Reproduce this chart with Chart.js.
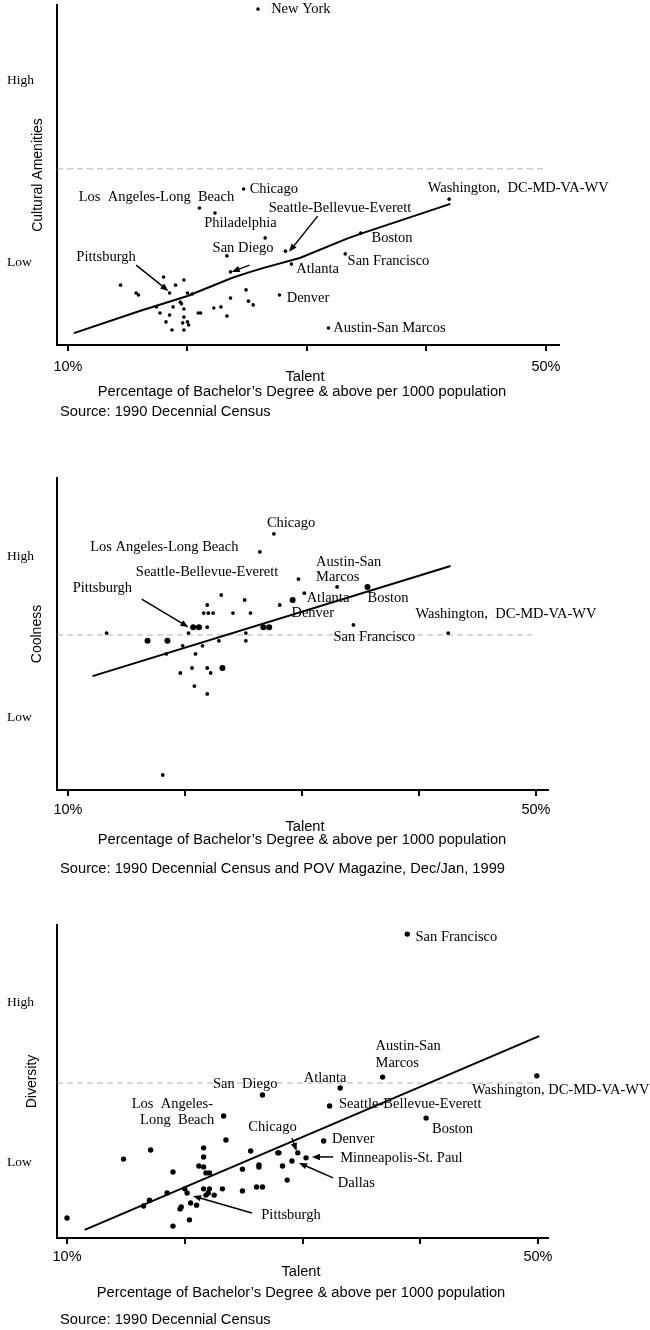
<!DOCTYPE html>
<html>
<head>
<meta charset="utf-8">
<script src="https://cdn.jsdelivr.net/npm/chart.js@4"></script>
<style>
  body { margin: 0; background: #fff; width: 650px; height: 1330px; position: relative; overflow: hidden; }
  canvas { position: absolute; left: 0; }
</style>
</head>
<body>
<canvas id="chart-amenities" width="650" height="440" style="top:0"></canvas>
<canvas id="chart-coolness" width="650" height="440" style="top:440px"></canvas>
<canvas id="chart-diversity" width="650" height="450" style="top:880px"></canvas>
<script>
// shared x axis
const tickVals = [10, 20, 30, 40, 50];
const tickText = ['10%', '', '', '', '50%'];
const levelWords = ['High', 'Low'];

// panel 1 - cultural amenities vs talent
const amenX = [25.9, 41.9, 24.7, 21.0, 22.3, 26.5, 34.5, 33.2, 28.2, 28.7, 23.3, 23.6, 27.7, 31.8, 14.4, 15.7, 15.9, 17.4, 17.7, 18.0, 18.2, 18.5, 18.5, 18.7, 18.8, 19.0, 19.4, 19.5, 19.7, 19.7, 19.7, 19.6, 19.7, 20.0, 20.0, 20.1, 20.4, 20.9, 21.1, 22.2, 22.8, 23.3, 23.6, 24.9, 25.1, 25.5];
const amenY = [98.8, 42.9, 45.9, 40.3, 38.8, 31.5, 32.9, 26.8, 27.6, 23.8, 26.2, 21.5, 14.7, 5.0, 17.6, 15.3, 14.7, 11.2, 9.4, 20.0, 6.8, 8.8, 15.3, 4.4, 11.2, 17.6, 12.6, 12.1, 19.1, 10.6, 8.2, 6.5, 4.4, 15.3, 6.8, 5.9, 15.0, 9.4, 9.4, 10.9, 11.2, 8.5, 13.8, 16.2, 12.9, 11.8];
const amenFitX = [10.5, 16.0, 20.0, 23.7, 25.0, 26.3, 29.4, 33.3, 34.4, 42.0];
const amenFitY = [3.5, 10.0, 14.4, 19.7, 21.2, 22.6, 25.6, 31.2, 32.6, 41.5];
const amenMid = 51.8;
const amenLevels = [77.9, 24.4];

// panel 2 - coolness vs talent
const coolX = [27.6, 26.4, 29.7, 30.2, 28.1, 23.1, 25.1, 21.9, 21.6, 22.0, 22.4, 24.1, 25.6, 13.3, 18.4, 19.8, 20.3, 21.9, 21.5, 20.9, 22.9, 25.2, 25.2, 19.6, 20.6, 21.9, 22.2, 20.8, 21.9, 18.1, 33.0, 34.4, 42.5];
const coolY = [82.1, 76.3, 67.6, 63.1, 59.3, 62.5, 60.9, 59.3, 56.7, 56.7, 56.7, 56.7, 56.7, 50.3, 43.6, 46.2, 50.3, 52.2, 46.2, 43.6, 47.8, 50.3, 47.8, 37.5, 39.1, 39.1, 37.5, 33.3, 30.8, 4.8, 65.1, 52.9, 50.3];
const coolBigX = [29.2, 16.8, 18.5, 20.7, 21.2, 26.7, 27.2, 23.2, 35.6];
const coolBigY = [60.9, 47.8, 47.8, 52.2, 52.2, 52.2, 52.2, 39.1, 65.1];
const coolFitX = [12.1, 42.7];
const coolFitY = [36.5, 71.8];
const coolMid = 49.7;
const coolLevels = [75.0, 23.4];

// panel 3 - diversity vs talent
const divX = [38.9, 36.8, 33.2, 32.3, 40.5, 31.8, 30.3, 49.9, 29.6, 29.1, 28.7, 28.3, 27.9, 28.0, 26.6, 26.3, 26.3, 26.1, 26.6, 25.6, 24.9, 24.9, 23.5, 23.3, 23.2, 22.5, 21.8, 22.0, 21.6, 22.1, 21.8, 22.1, 21.6, 21.2, 21.6, 21.6, 21.0, 20.5, 20.4, 20.2, 20.0, 19.6, 19.7, 19.0, 19.0, 18.5, 17.0, 16.5, 17.1, 14.8, 10.0];
const divY = [97.1, 51.4, 47.9, 42.2, 38.3, 31.0, 25.6, 51.8, 27.2, 24.6, 18.5, 23.0, 27.2, 27.2, 45.7, 23.3, 22.7, 16.3, 16.3, 27.8, 22.0, 15.0, 31.3, 39.0, 15.7, 13.7, 13.7, 14.4, 15.7, 15.7, 20.8, 20.8, 22.7, 23.0, 25.9, 28.8, 10.5, 11.2, 5.8, 14.4, 15.7, 9.3, 9.9, 3.8, 21.1, 14.4, 12.1, 10.2, 28.1, 25.2, 6.4];
const divFitX = [11.5, 50.1];
const divFitY = [2.6, 64.5];
const divMid = 49.5;
const divLevels = [75.1, 24.0];

const pctText = 'Percentage of Bachelor\u2019s Degree & above per 1000 population';

// city names: [text, x, y, align]
const amenNames = [
  ['New York', 27.0, 98.8], ['Washington,  DC-MD-VA-WV', 40.1, 46.2], ['Chicago', 25.2, 45.9],
  ['Los  Angeles-Long  Beach', 10.9, 43.5], ['Philadelphia', 21.4, 35.9], ['Seattle-Bellevue-Everett', 26.8, 40.3],
  ['San Diego', 22.1, 28.5], ['Pittsburgh', 10.7, 25.9], ['Atlanta', 29.1, 22.4], ['Boston', 35.4, 31.5],
  ['San Francisco', 33.4, 24.7], ['Denver', 28.3, 13.8], ['Austin-San Marcos', 32.2, 5.0]
];
const amenArrows = [[15.7, 23.5, 18.4, 15.9], [25.2, 23.5, 23.7, 21.5], [30.9, 37.9, 28.5, 27.4]];

const coolNames = [
  ['Chicago', 27.0, 85.6], ['Los Angeles-Long Beach', 11.9, 77.9], ['Seattle-Bellevue-Everett', 15.8, 69.9],
  ['Pittsburgh', 10.4, 64.7], ['Austin-San', 31.2, 73.1], ['Marcos', 31.2, 68.3], ['Atlanta', 30.4, 61.5],
  ['Denver', 29.1, 56.7], ['Boston', 35.6, 61.5], ['Washington,  DC-MD-VA-WV', 39.7, 56.4], ['San Francisco', 32.7, 49.0]
];
const coolArrows = [[16.3, 61.2, 20.3, 52.2]];

const divNames = [
  ['San Francisco', 39.6, 96.2], ['Austin-San', 36.2, 61.3], ['Marcos', 36.2, 55.9], ['Atlanta', 30.1, 51.1],
  ['Washington, DC-MD-VA-WV', 44.4, 47.3], ['Seattle-Bellevue-Everett', 33.1, 42.8], ['Boston', 41.0, 34.8],
  ['Denver', 32.5, 31.6], ['San  Diego', 22.4, 49.2], ['Los  Angeles-', 22.4, 42.8, 'right'], ['Long  Beach', 22.5, 37.7, 'right'],
  ['Chicago', 25.4, 35.5], ['Pittsburgh', 26.5, 7.3], ['Minneapolis-St. Paul', 33.2, 25.6], ['Dallas', 33.0, 17.6]
];
const divArrows = [[29.1, 31.9, 29.5, 27.8], [32.6, 25.9, 30.8, 25.9], [32.6, 19.2, 29.7, 24.0], [25.7, 8.0, 20.7, 13.4]];

const SANS = '"Liberation Sans", Arial, sans-serif';
const SERIF = '"Liberation Serif", "Times New Roman", serif';

function toPoints(xs, ys) {
  return xs.map((v, i) => ({ x: v, y: ys[i] }));
}

function drawArrow(ctx, x0, y0, x1, y1) {
  const ang = Math.atan2(y1 - y0, x1 - x0);
  const len = 8, half = 3.2;
  ctx.lineWidth = 1.5;
  ctx.beginPath();
  ctx.moveTo(x0, y0);
  ctx.lineTo(x1 - Math.cos(ang) * len * 0.8, y1 - Math.sin(ang) * len * 0.8);
  ctx.stroke();
  ctx.beginPath();
  ctx.moveTo(x1, y1);
  ctx.lineTo(x1 - Math.cos(ang) * len - Math.sin(ang) * half, y1 - Math.sin(ang) * len + Math.cos(ang) * half);
  ctx.lineTo(x1 - Math.cos(ang) * len + Math.sin(ang) * half, y1 - Math.sin(ang) * len - Math.cos(ang) * half);
  ctx.closePath();
  ctx.fill();
}

// texts around the plot: level words, city names, arrows, axis titles, source
function decorFor(cfg) {
  return {
    id: 'decor',
    afterDraw(chart) {
      const { ctx, chartArea: a, scales: { x, y } } = chart;
      ctx.save();
      ctx.fillStyle = '#000';
      ctx.strokeStyle = '#000';
      ctx.textBaseline = 'middle';

      ctx.font = '13.5px ' + SERIF;
      ctx.textAlign = 'left';
      levelWords.forEach((w, i) => ctx.fillText(w, 7, y.getPixelForValue(cfg.levels[i])));

      ctx.font = '14.5px ' + SERIF;
      cfg.names.forEach(([t, lx, ly, al]) => {
        ctx.textAlign = al || 'left';
        ctx.fillText(t, x.getPixelForValue(lx), y.getPixelForValue(ly));
      });

      cfg.arrows.forEach(([x0, y0, x1, y1]) => drawArrow(ctx,
        x.getPixelForValue(x0), y.getPixelForValue(y0), x.getPixelForValue(x1), y.getPixelForValue(y1)));

      ctx.font = '14.7px ' + SANS;
      ctx.textAlign = 'center';
      ctx.fillText('Talent', cfg.talentX, a.bottom + cfg.foot[0]);
      ctx.fillText(pctText, cfg.pctX, a.bottom + cfg.foot[1]);
      ctx.textAlign = 'left';
      ctx.fillText(cfg.source, 60, a.bottom + cfg.foot[2]);

      ctx.font = '14px ' + SANS;
      ctx.translate(cfg.yTitleX, (a.top + a.bottom) / 2);
      ctx.rotate(-Math.PI / 2);
      ctx.textAlign = 'center';
      ctx.fillText(cfg.yTitle, 0, 0);
      ctx.restore();
    }
  };
}

function buildChart(id, cfg) {
  const datasets = cfg.points.map(p => ({
    type: 'scatter', data: toPoints(p.xs, p.ys),
    backgroundColor: '#000', borderWidth: 0, pointRadius: p.r
  }));
  datasets.push({
    type: 'scatter', data: toPoints(cfg.fitX, cfg.fitY), showLine: true,
    borderColor: '#000', borderWidth: 2, pointRadius: 0, fill: false, tension: 0
  });
  datasets.push({
    type: 'scatter', data: [{ x: cfg.xMin, y: cfg.mid }, { x: cfg.midEnd, y: cfg.mid }], showLine: true,
    borderColor: '#9a9a9a', borderWidth: 0.8, borderDash: [6, 4], pointRadius: 0
  });

  return new Chart(document.getElementById(id), {
    type: 'scatter',
    data: { datasets },
    options: {
      responsive: false,
      animation: false,
      events: [],
      layout: { padding: cfg.pad },
      plugins: { legend: { display: false }, tooltip: { enabled: false } },
      scales: {
        x: {
          type: 'linear', min: cfg.xMin, max: cfg.xMax,
          afterBuildTicks: s => { s.ticks = tickVals.map(v => ({ value: v })); },
          afterFit: s => { s.height = 30; },
          ticks: {
            callback: (v, i) => tickText[i], color: '#000', padding: cfg.tickPad,
            font: { family: SANS, size: 14.5 }, maxRotation: 0, autoSkip: false
          },
          grid: { display: true, drawOnChartArea: false, drawTicks: true, tickLength: 6, color: '#000', lineWidth: 2 },
          border: { display: true, color: '#000', width: 2 }
        },
        y: {
          type: 'linear', min: 0, max: 100,
          afterFit: s => { s.width = 0; },
          ticks: { display: false },
          grid: { display: false, drawTicks: false },
          border: { display: true, color: '#000', width: 2 }
        }
      }
    },
    plugins: [decorFor(cfg)]
  });
}

buildChart('chart-amenities', {
  points: [{ xs: amenX, ys: amenY, r: 1.8 }],
  fitX: amenFitX, fitY: amenFitY, mid: amenMid, midEnd: 50.1, levels: amenLevels,
  xMin: 9.08, xMax: 51.09, pad: { left: 57, right: 91, top: 5, bottom: 65 }, tickPad: 7,
  names: amenNames, arrows: amenArrows, yTitle: 'Cultural Amenities', yTitleX: 38,
  talentX: 305, pctX: 302, foot: [32, 47, 67], source: 'Source: 1990 Decennial Census'
});

buildChart('chart-coolness', {
  points: [{ xs: coolX, ys: coolY, r: 1.9 }, { xs: coolBigX, ys: coolBigY, r: 3 }],
  fitX: coolFitX, fitY: coolFitY, mid: coolMid, midEnd: 49.7, levels: coolLevels,
  xMin: 9.06, xMax: 51.03, pad: { left: 57, right: 102, top: 38, bottom: 60 }, tickPad: 5,
  names: coolNames, arrows: coolArrows, yTitle: 'Coolness', yTitleX: 37,
  talentX: 305, pctX: 302, foot: [37, 50, 79], source: 'Source: 1990 Decennial Census and POV Magazine, Dec/Jan, 1999'
});

buildChart('chart-diversity', {
  points: [{ xs: divX, ys: divY, r: 2.7 }],
  fitX: divFitX, fitY: divFitY, mid: divMid, midEnd: 50.0, levels: divLevels,
  xMin: 9.15, xMax: 50.85, pad: { left: 57, right: 102, top: 45, bottom: 62 }, tickPad: 4,
  names: divNames, arrows: divArrows, yTitle: 'Diversity', yTitleX: 32,
  talentX: 301, pctX: 301, foot: [34, 55, 82], source: 'Source: 1990 Decennial Census'
});
</script>
</body>
</html>
